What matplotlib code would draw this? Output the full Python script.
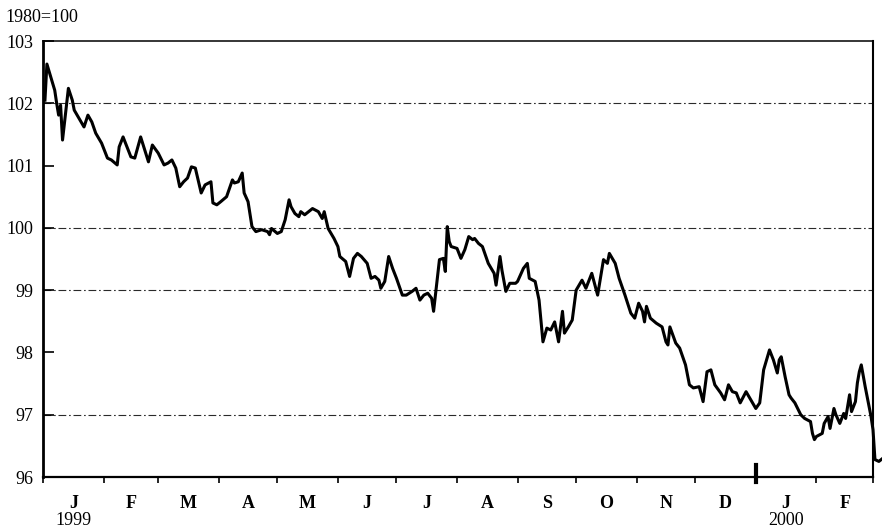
import numpy as np
import pandas as pd
import matplotlib
matplotlib.use("Agg")
import matplotlib.pyplot as plt

# --------------------------------------------------------------------
# Data: day offset from 1 Jan 1999, index
# --------------------------------------------------------------------

START = pd.Timestamp("1999-01-01")

days = [
    1, 2, 4, 6, 7, 8, 9, 10, 13, 15,
    16, 19, 21, 23, 25, 27, 30, 33, 35, 38,
    39, 41, 43, 45, 47, 50, 51, 54, 56, 59,
    62, 64, 66, 68, 70, 72, 74, 76, 78, 80,
    81, 83, 86, 87, 89, 91, 94, 97, 98, 100,
    102, 103, 105, 107, 109, 112, 115, 116, 117, 120,
    122, 124, 126, 127, 129, 131, 132, 134, 136, 138,
    141, 143, 144, 146, 149, 151, 152, 155, 157, 159,
    161, 163, 166, 168, 170, 172, 173, 175, 177, 179,
    181, 184, 186, 189, 191, 193, 195, 197, 199, 200,
    202, 203, 205, 206, 207, 208, 209, 212, 214, 216,
    218, 220, 221, 223, 225, 228, 231, 232, 234, 235,
    237, 239, 242, 243, 246, 248, 249, 252, 254, 256,
    258, 260, 262, 264, 266, 267, 269, 271, 273, 276,
    278, 281, 284, 287, 289, 290, 293, 295, 298, 301,
    303, 305, 307, 308, 309, 311, 314, 317, 319, 320,
    321, 324, 326, 329, 331, 333, 336, 338, 340, 342,
    344, 347, 349, 351, 353, 355, 357, 360, 363, 365,
    367, 369, 371, 372, 374, 376, 377, 378, 380, 382,
    383, 385, 388, 390, 393, 394, 395, 396, 399, 400,
    402, 403, 405, 406, 408, 410, 411, 413, 414, 416,
    417, 418, 419, 421, 423, 424, 425, 426, 428, 430,
]

index_values = [
    102.05, 102.63, 102.42, 102.21, 102.00, 101.81, 101.97, 101.41, 102.24, 102.05,
    101.89, 101.73, 101.62, 101.81, 101.70, 101.52, 101.36, 101.12, 101.09, 101.01,
    101.30, 101.46, 101.30, 101.14, 101.12, 101.46, 101.36, 101.06, 101.33, 101.20,
    101.01, 101.04, 101.09, 100.96, 100.66, 100.74, 100.80, 100.98, 100.96, 100.69,
    100.56, 100.69, 100.74, 100.40, 100.37, 100.42, 100.50, 100.77, 100.72, 100.74,
    100.88, 100.56, 100.42, 100.02, 99.94, 99.97, 99.94, 99.89, 99.99, 99.91,
    99.94, 100.13, 100.45, 100.34, 100.23, 100.18, 100.26, 100.21, 100.26, 100.31,
    100.26, 100.15, 100.26, 99.99, 99.83, 99.70, 99.54, 99.46, 99.22, 99.51,
    99.59, 99.54, 99.43, 99.19, 99.22, 99.16, 99.03, 99.14, 99.54, 99.35,
    99.19, 98.92, 98.92, 98.98, 99.03, 98.84, 98.92, 98.95, 98.87, 98.66,
    99.22, 99.49, 99.51, 99.30, 100.02, 99.78, 99.70, 99.67, 99.51, 99.65,
    99.86, 99.81, 99.83, 99.75, 99.70, 99.43, 99.27, 99.08, 99.54, 99.32,
    98.98, 99.11, 99.11, 99.14, 99.35, 99.43, 99.19, 99.14, 98.84, 98.17,
    98.39, 98.36, 98.49, 98.17, 98.66, 98.31, 98.41, 98.52, 99.00, 99.16,
    99.03, 99.27, 98.92, 99.49, 99.43, 99.59, 99.43, 99.19, 98.92, 98.63,
    98.55, 98.79, 98.66, 98.49, 98.74, 98.55, 98.47, 98.41, 98.17, 98.12,
    98.41, 98.15, 98.07, 97.80, 97.48, 97.43, 97.45, 97.21, 97.69, 97.72,
    97.48, 97.35, 97.24, 97.48, 97.37, 97.35, 97.19, 97.37, 97.21, 97.10,
    97.19, 97.72, 97.93, 98.04, 97.88, 97.67, 97.88, 97.93, 97.61, 97.32,
    97.27, 97.19, 97.00, 96.94, 96.89, 96.70, 96.60, 96.65, 96.70, 96.86,
    96.97, 96.78, 97.10, 97.00, 96.86, 97.02, 96.94, 97.32, 97.05, 97.21,
    97.51, 97.69, 97.80, 97.45, 97.13, 96.97, 96.76, 96.28, 96.25, 96.30,
]

month_letters = ["J", "F", "M", "A", "M", "J", "J", "A", "S", "O", "N", "D", "J", "F"]
year_labels = {0: "1999", 12: "2000"}
y_ticks = [96, 97, 98, 99, 100, 101, 102, 103]
grid_levels = [97, 99, 100, 102]

plt.rcParams["font.family"] = ["Liberation Serif", "DejaVu Serif"]

month_starts = pd.date_range("1999-01-01", "2000-03-01", freq="MS")
edges = np.array([(d - START).days for d in month_starts])
mids = (edges[:-1] + edges[1:]) / 2

# --------------------------------------------------------------------
# Figure
# --------------------------------------------------------------------

fig = plt.figure(figsize=(8.82, 5.27), dpi=100)
ax = fig.add_axes([43 / 882, 50 / 527, 830 / 882, 436 / 527])

for level in grid_levels:
    ax.axhline(level, color="#2a2a2a", linewidth=0.8, dashes=(7, 2.5, 1.5, 2.5), zorder=1)

ax.plot(days, index_values, color="black", linewidth=2.2,
        solid_joinstyle="round", clip_on=False, zorder=3)

ax.set_xlim(edges[0], edges[-1])
ax.set_ylim(y_ticks[0], y_ticks[-1])

ax.set_yticks(y_ticks)
ax.set_yticklabels([str(t) for t in y_ticks])
ax.tick_params(axis="y", direction="in", length=8, width=1.2, pad=7, labelsize=13)

ax.set_xticks(edges)
ax.set_xticklabels([])
ax.tick_params(axis="x", which="major", direction="out", length=4, width=1.2)
ax.set_xticks(mids, minor=True)
ax.set_xticklabels(month_letters, minor=True, fontweight="bold")
ax.tick_params(axis="x", which="minor", length=0, pad=13, labelsize=13)

for i, label in year_labels.items():
    ax.text(mids[i], -0.099, label, transform=ax.get_xaxis_transform(),
            ha="center", va="center", fontsize=13)

# heavier marker at the year change
ax.plot([edges[12], edges[12]], [-0.012, 0.028], transform=ax.get_xaxis_transform(),
        color="black", linewidth=3, clip_on=False)

ax.spines["left"].set_linewidth(2.0)
ax.spines["bottom"].set_linewidth(1.6)
ax.spines["right"].set_linewidth(1.5)
ax.spines["top"].set_linewidth(1.1)

fig.text(0.006, 0.966, "1980=100", ha="left", va="center", fontsize=13)

fig.savefig("out.png", dpi=100)
